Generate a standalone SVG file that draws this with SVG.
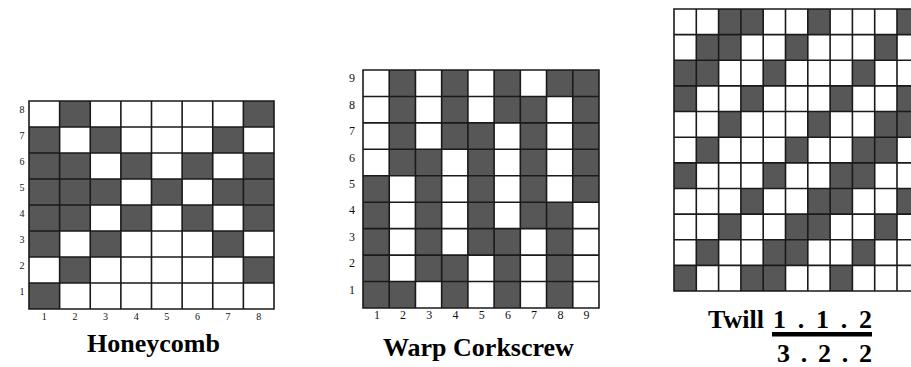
<svg xmlns="http://www.w3.org/2000/svg" width="911" height="367" viewBox="0 0 911 367">
<style>
.bg{fill:#ffffff}
.d{fill:#575757}
.g{fill:none;stroke:#1a1a1a;stroke-width:1.6;vector-effect:non-scaling-stroke}
.lh{font-family:"Liberation Serif",serif;font-size:10px;fill:#111;text-anchor:middle}
.lw{font-family:"Liberation Serif",serif;font-size:12px;fill:#111;text-anchor:middle}
.t{font-family:"Liberation Serif",serif;font-size:26px;font-weight:bold;fill:#000}
</style>
<rect width="911" height="367" fill="#ffffff"/>

<g id="honeycomb">
  <g transform="translate(29,101) scale(30.625,26)">
    <rect class="bg" x="0" y="0" width="8" height="8"/>
    <rect class="d" x="1" y="0" width="1" height="1"/><rect class="d" x="7" y="0" width="1" height="1"/>
    <rect class="d" x="0" y="1" width="1" height="1"/><rect class="d" x="2" y="1" width="1" height="1"/><rect class="d" x="6" y="1" width="1" height="1"/>
    <rect class="d" x="0" y="2" width="2" height="1"/><rect class="d" x="3" y="2" width="1" height="1"/><rect class="d" x="5" y="2" width="1" height="1"/><rect class="d" x="7" y="2" width="1" height="1"/>
    <rect class="d" x="0" y="3" width="3" height="1"/><rect class="d" x="4" y="3" width="1" height="1"/><rect class="d" x="6" y="3" width="2" height="1"/>
    <rect class="d" x="0" y="4" width="2" height="1"/><rect class="d" x="3" y="4" width="1" height="1"/><rect class="d" x="5" y="4" width="1" height="1"/><rect class="d" x="7" y="4" width="1" height="1"/>
    <rect class="d" x="0" y="5" width="1" height="1"/><rect class="d" x="2" y="5" width="1" height="1"/><rect class="d" x="6" y="5" width="1" height="1"/>
    <rect class="d" x="1" y="6" width="1" height="1"/><rect class="d" x="7" y="6" width="1" height="1"/>
    <rect class="d" x="0" y="7" width="1" height="1"/>
    <path class="g" d="M0 0H8V8H0Z M1 0V8 M2 0V8 M3 0V8 M4 0V8 M5 0V8 M6 0V8 M7 0V8 M0 1H8 M0 2H8 M0 3H8 M0 4H8 M0 5H8 M0 6H8 M0 7H8"/>
  </g>
  <text class="lh" x="22" y="113">8</text>
  <text class="lh" x="22" y="139">7</text>
  <text class="lh" x="22" y="165">6</text>
  <text class="lh" x="22" y="191">5</text>
  <text class="lh" x="22" y="217">4</text>
  <text class="lh" x="22" y="243">3</text>
  <text class="lh" x="22" y="269">2</text>
  <text class="lh" x="22" y="295">1</text>
  <text class="lh" x="44.3" y="320">1</text>
  <text class="lh" x="74.9" y="320">2</text>
  <text class="lh" x="105.6" y="320">3</text>
  <text class="lh" x="136.2" y="320">4</text>
  <text class="lh" x="166.8" y="320">5</text>
  <text class="lh" x="197.4" y="320">6</text>
  <text class="lh" x="228.1" y="320">7</text>
  <text class="lh" x="258.7" y="320">8</text>
  <text class="t" x="87" y="352">Honeycomb</text>
</g>

<g id="warp-corkscrew">
  <g transform="translate(363,70) scale(26.22,26.44)">
    <rect class="bg" x="0" y="0" width="9" height="9"/>
    <rect class="d" x="1" y="0" width="1" height="1"/><rect class="d" x="3" y="0" width="1" height="1"/><rect class="d" x="5" y="0" width="1" height="1"/><rect class="d" x="7" y="0" width="2" height="1"/>
    <rect class="d" x="1" y="1" width="1" height="1"/><rect class="d" x="3" y="1" width="1" height="1"/><rect class="d" x="5" y="1" width="2" height="1"/><rect class="d" x="8" y="1" width="1" height="1"/>
    <rect class="d" x="1" y="2" width="1" height="1"/><rect class="d" x="3" y="2" width="2" height="1"/><rect class="d" x="6" y="2" width="1" height="1"/><rect class="d" x="8" y="2" width="1" height="1"/>
    <rect class="d" x="1" y="3" width="2" height="1"/><rect class="d" x="4" y="3" width="1" height="1"/><rect class="d" x="6" y="3" width="1" height="1"/><rect class="d" x="8" y="3" width="1" height="1"/>
    <rect class="d" x="0" y="4" width="1" height="1"/><rect class="d" x="2" y="4" width="1" height="1"/><rect class="d" x="4" y="4" width="1" height="1"/><rect class="d" x="6" y="4" width="1" height="1"/><rect class="d" x="8" y="4" width="1" height="1"/>
    <rect class="d" x="0" y="5" width="1" height="1"/><rect class="d" x="2" y="5" width="1" height="1"/><rect class="d" x="4" y="5" width="1" height="1"/><rect class="d" x="6" y="5" width="2" height="1"/>
    <rect class="d" x="0" y="6" width="1" height="1"/><rect class="d" x="2" y="6" width="1" height="1"/><rect class="d" x="4" y="6" width="2" height="1"/><rect class="d" x="7" y="6" width="1" height="1"/>
    <rect class="d" x="0" y="7" width="1" height="1"/><rect class="d" x="2" y="7" width="2" height="1"/><rect class="d" x="5" y="7" width="1" height="1"/><rect class="d" x="7" y="7" width="1" height="1"/>
    <rect class="d" x="0" y="8" width="2" height="1"/><rect class="d" x="3" y="8" width="1" height="1"/><rect class="d" x="5" y="8" width="1" height="1"/><rect class="d" x="7" y="8" width="1" height="1"/>
    <path class="g" d="M0 0H9V9H0Z M1 0V9 M2 0V9 M3 0V9 M4 0V9 M5 0V9 M6 0V9 M7 0V9 M8 0V9 M0 1H9 M0 2H9 M0 3H9 M0 4H9 M0 5H9 M0 6H9 M0 7H9 M0 8H9"/>
  </g>
  <text class="lw" x="352" y="82.2">9</text>
  <text class="lw" x="352" y="108.7">8</text>
  <text class="lw" x="352" y="135.1">7</text>
  <text class="lw" x="352" y="161.5">6</text>
  <text class="lw" x="352" y="188">5</text>
  <text class="lw" x="352" y="214.4">4</text>
  <text class="lw" x="352" y="240.9">3</text>
  <text class="lw" x="352" y="267.3">2</text>
  <text class="lw" x="352" y="293.7">1</text>
  <text class="lw" x="377" y="319">1</text>
  <text class="lw" x="403" y="319">2</text>
  <text class="lw" x="429.3" y="319">3</text>
  <text class="lw" x="455.5" y="319">4</text>
  <text class="lw" x="481.7" y="319">5</text>
  <text class="lw" x="507.9" y="319">6</text>
  <text class="lw" x="534.1" y="319">7</text>
  <text class="lw" x="560.4" y="319">8</text>
  <text class="lw" x="586.6" y="319">9</text>
  <text class="t" x="383" y="356">Warp Corkscrew</text>
</g>

<g id="twill">
  <g transform="translate(674,9) scale(22.3,25.64)">
    <rect class="bg" x="0" y="0" width="11" height="11"/>
    <rect class="d" x="2" y="0" width="2" height="1"/><rect class="d" x="6" y="0" width="1" height="1"/><rect class="d" x="10" y="0" width="1" height="1"/>
    <rect class="d" x="1" y="1" width="2" height="1"/><rect class="d" x="5" y="1" width="1" height="1"/><rect class="d" x="9" y="1" width="1" height="1"/>
    <rect class="d" x="0" y="2" width="2" height="1"/><rect class="d" x="4" y="2" width="1" height="1"/><rect class="d" x="8" y="2" width="1" height="1"/>
    <rect class="d" x="0" y="3" width="1" height="1"/><rect class="d" x="3" y="3" width="1" height="1"/><rect class="d" x="7" y="3" width="1" height="1"/><rect class="d" x="10" y="3" width="1" height="1"/>
    <rect class="d" x="2" y="4" width="1" height="1"/><rect class="d" x="6" y="4" width="1" height="1"/><rect class="d" x="9" y="4" width="2" height="1"/>
    <rect class="d" x="1" y="5" width="1" height="1"/><rect class="d" x="5" y="5" width="1" height="1"/><rect class="d" x="8" y="5" width="2" height="1"/>
    <rect class="d" x="0" y="6" width="1" height="1"/><rect class="d" x="4" y="6" width="1" height="1"/><rect class="d" x="7" y="6" width="2" height="1"/>
    <rect class="d" x="3" y="7" width="1" height="1"/><rect class="d" x="6" y="7" width="2" height="1"/><rect class="d" x="10" y="7" width="1" height="1"/>
    <rect class="d" x="2" y="8" width="1" height="1"/><rect class="d" x="5" y="8" width="2" height="1"/><rect class="d" x="9" y="8" width="1" height="1"/>
    <rect class="d" x="1" y="9" width="1" height="1"/><rect class="d" x="4" y="9" width="2" height="1"/><rect class="d" x="8" y="9" width="1" height="1"/>
    <rect class="d" x="0" y="10" width="1" height="1"/><rect class="d" x="3" y="10" width="2" height="1"/><rect class="d" x="7" y="10" width="1" height="1"/>
    <path class="g" d="M0 0H11V11H0Z M1 0V11 M2 0V11 M3 0V11 M4 0V11 M5 0V11 M6 0V11 M7 0V11 M8 0V11 M9 0V11 M10 0V11 M0 1H11 M0 2H11 M0 3H11 M0 4H11 M0 5H11 M0 6H11 M0 7H11 M0 8H11 M0 9H11 M0 10H11"/>
  </g>
  <text class="t" x="708" y="328">Twill</text>
  <text class="t" x="773" y="328" textLength="99" lengthAdjust="spacing">1 . 1 . 2</text>
  <rect x="772" y="332" width="100" height="4.5" fill="#000"/>
  <text class="t" x="777" y="362" textLength="95" lengthAdjust="spacing">3 . 2 . 2</text>
</g>
</svg>
